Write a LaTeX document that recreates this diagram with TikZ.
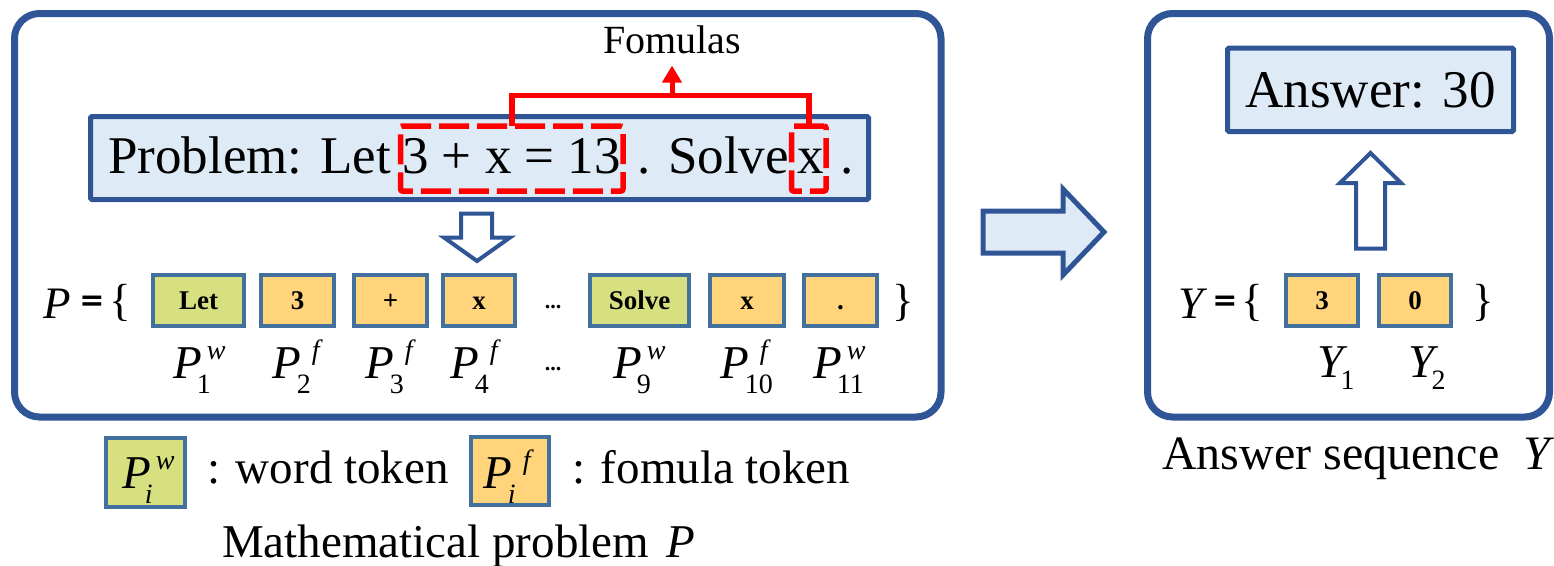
\documentclass[tikz,border=0pt]{standalone}
\usepackage{fontspec}
\setmainfont{LiberationSerif}[Extension=.ttf,UprightFont=*-Regular,BoldFont=*-Bold,ItalicFont=*-Italic,BoldItalicFont=*-BoldItalic]
\newfontfamily\eqfont{DejaVu Sans}
\usetikzlibrary{arrows.meta}
\definecolor{dkblue}{RGB}{47,85,151}
\definecolor{tokblue}{RGB}{65,113,156}
\definecolor{ltblue}{RGB}{222,235,247}
\definecolor{tokgreen}{RGB}{214,224,128}
\definecolor{tokorange}{RGB}{255,212,122}
\newcommand\lbl[5]{\textit{#1}\rlap{\hspace{#4}\raisebox{19pt}{\fontsize{28}{28}\selectfont\textit{#2}}}\hspace{#5}\raisebox{-15pt}{\fontsize{28}{28}\selectfont #3}}
\newcommand\ylbl[2]{\textit{#1}\hspace{-7pt}\raisebox{-12pt}{\fontsize{28}{28}\selectfont #2}}
\begin{document}
\begin{tikzpicture}[x=1pt,y=-1pt,
  panel/.style={draw=dkblue,line width=7pt,rounded corners=25pt,inner sep=0pt,outer sep=0pt},
  txtbox/.style={draw=dkblue,line width=5pt,fill=ltblue,rounded corners=1.5pt,inner sep=0pt,outer sep=0pt},
  redbox/.style={draw=red,line width=5.5pt,dash pattern=on 30pt off 8pt,rounded corners=2pt,inner sep=0pt,outer sep=0pt},
  tok/.style={draw=tokblue,line width=4pt,minimum height=51pt,inner sep=0pt,outer sep=0pt,
    font=\fontsize{27}{27}\selectfont\bfseries,text height=18pt,text depth=0pt},
  wtok/.style={tok,fill=tokgreen},
  ftok/.style={tok,fill=tokorange},
  big/.style={font=\fontsize{53}{53}\selectfont,inner sep=0pt,anchor=base west},
  mid/.style={font=\fontsize{47}{47}\selectfont,inner sep=0pt,anchor=base west},
  setsym/.style={font=\fontsize{45}{45}\selectfont,inner sep=0pt},
  eqsym/.style={font=\fontsize{30}{30}\selectfont\eqfont\bfseries,inner sep=0pt},
  dots/.style={font=\fontsize{22}{22}\selectfont\bfseries,inner sep=0pt},
  hollow/.style={draw=dkblue,line width=4pt,fill=white,line join=miter}
]
\useasboundingbox (0,0) rectangle (1554,565);

% panels
\node[panel,minimum width=926.5pt,minimum height=403.5pt] (leftbox) at (477.75,215.25) {};
\node[panel,minimum width=402pt,minimum height=403.5pt] (rightbox) at (1348.5,215.25) {};

% problem box
\node[txtbox,minimum width=778pt,minimum height=83pt] (prob) at (479.5,158) {};
\node[big] (t1) at (108,173) {Problem: Let};
\node[big] (t2) at (402,173) {3 + x = 13};
\node[big] (t3) at (637,173) {. Solve};
\node[big] (t4) at (797,173) {x};
\node[big] (t5) at (840,173) {.};

% red formula boxes
\node[redbox,minimum width=222.5pt,minimum height=65pt] (f1) at (511.75,158.5) {};
\node[redbox,minimum width=34.5pt,minimum height=65pt] (f2) at (808.75,158.5) {};
\coordinate (bm) at (672,95.5);
\draw[red,line width=5.5pt,line join=miter] (f1.north) -- (f1.north |- bm) -- (f2.north |- bm) -- (f2.north);
\node[font=\fontsize{40}{40}\selectfont,inner sep=0pt,anchor=base] (fom) at (672,53) {Fomulas};
\draw[red,line width=5pt,-{Triangle[length=17pt,width=19pt]},shorten >=12pt] (bm) -- (fom.south);

% down arrow
\draw[hollow] (461,213.5) -- (492,213.5) -- (492,237.5) -- (510,237.5) -- (477,261) -- (444,237.5) -- (461,237.5) -- cycle;

% P = { ... }
\node[setsym,anchor=base west] (pP) at (43,318) {\textit{P}};
\node[eqsym] (peq) at (92,303) {=};
\node[setsym,anchor=base] (pl) at (120,315) {\{};
\node[wtok,minimum width=91pt] (k1) at (198.5,300.5) {Let};
\node[ftok,minimum width=73pt] (k2) at (297.5,300.5) {3};
\node[ftok,minimum width=73pt] (k3) at (390.5,300.5) {+};
\node[ftok,minimum width=72pt] (k4) at (479,300.5) {x};
\node[dots] (kd) at (553,307) {...};
\node[wtok,minimum width=99pt] (k9) at (639.5,300.5) {Solve};
\node[ftok,minimum width=74pt] (k10) at (747,300.5) {x};
\node[ftok,minimum width=73pt] (k11) at (840.5,300.5) {.};
\node[setsym,anchor=base] (pr) at (903,315) {\}};

% labels
\node[mid] (l1) at (173,378) {\lbl{P}{w}{1}{5pt}{-5pt}};
\node[mid] (l2) at (272,378) {\lbl{P}{f}{2}{11pt}{-4pt}};
\node[mid] (l3) at (365,378) {\lbl{P}{f}{3}{11pt}{-4pt}};
\node[mid] (l4) at (450,378) {\lbl{P}{f}{4}{11pt}{-4pt}};
\node[dots] (ld) at (553,369) {...};
\node[mid] (l9) at (613,378) {\lbl{P}{w}{9}{5pt}{-5pt}};
\node[mid] (l10) at (720,378) {\lbl{P}{f}{10}{11pt}{-4pt}};
\node[mid] (l11) at (813,378) {\lbl{P}{w}{11}{5pt}{-5pt}};

% legend
\node[draw=tokblue,line width=4pt,fill=tokgreen,minimum width=79pt,minimum height=69pt,inner sep=0pt] (lgw) at (145.5,472.3) {};
\node[mid] (lgwt) at (122,488) {\lbl{P}{w}{\textit{i}}{5pt}{-6pt}};
\node[mid] (lgwx) at (207,483) {: word token};
\node[draw=tokblue,line width=4pt,fill=tokorange,minimum width=78pt,minimum height=68pt,inner sep=0pt] (lgf) at (510,471) {};
\node[mid] (lgft) at (483,488) {\lbl{P}{f}{\textit{i}}{11pt}{-4pt}};
\node[mid] (lgfx) at (572,483) {: fomula token};
\node[mid] (capL) at (222,557) {Mathematical problem\hspace{6pt} \textit{P}};

% big arrow
\draw[draw=dkblue,line width=5pt,fill=ltblue,line join=miter] (983,211) -- (1063,211) -- (1063,189) -- (1104,232) -- (1063,275) -- (1063,253) -- (983,253) -- cycle;

% right panel
\node[txtbox,minimum width=286pt,minimum height=83.5pt,font=\fontsize{53}{53}\selectfont] (ans) at (1370.5,89.75) {Answer: 30};
\draw[hollow] (1356,248.5) -- (1385,248.5) -- (1385,183) -- (1401,183) -- (1370.5,153) -- (1340,183) -- (1356,183) -- cycle;
\node[setsym,anchor=base west] (yY) at (1178,318) {\textit{Y}};
\node[eqsym] (yeq) at (1225,303) {=};
\node[setsym,anchor=base] (yl) at (1252,315) {\{};
\node[ftok,minimum width=72pt] (y1) at (1322,300.5) {3};
\node[ftok,minimum width=72pt] (y2) at (1415,300.5) {0};
\node[setsym,anchor=base] (yr) at (1483,315) {\}};
\node[mid] (yl1) at (1317,377) {\ylbl{Y}{1}};
\node[mid] (yl2) at (1408,377) {\ylbl{Y}{2}};
\node[mid,font=\fontsize{48}{48}\selectfont] (capR) at (1162,469) {Answer sequence\hspace{12pt} \textit{Y}};
\end{tikzpicture}
\end{document}
